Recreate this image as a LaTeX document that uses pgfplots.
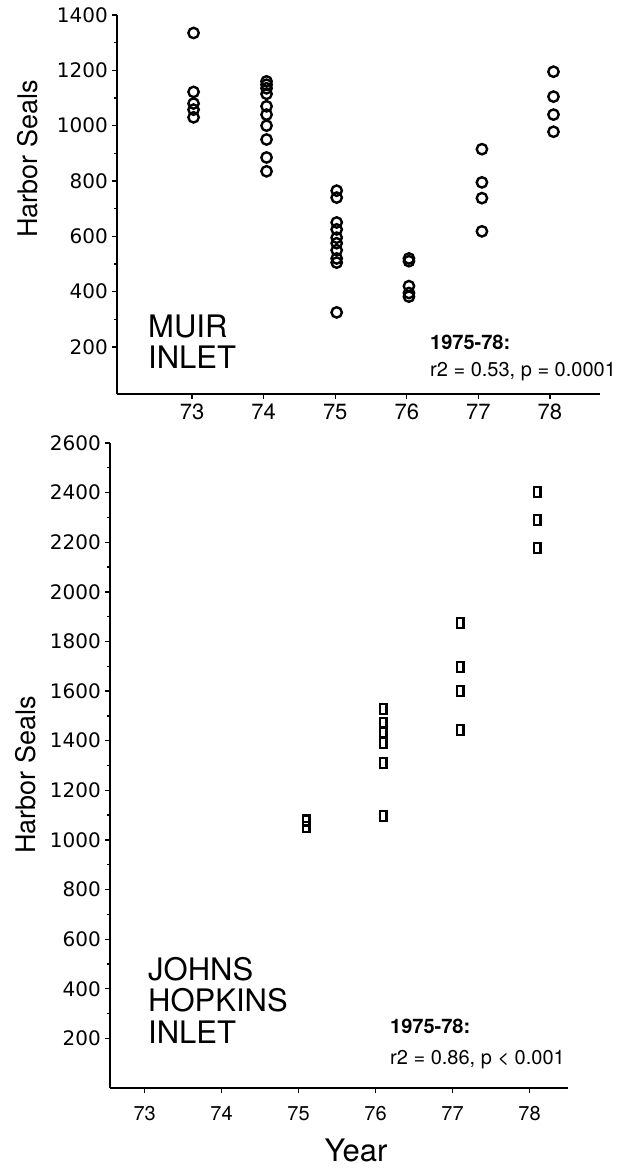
\documentclass[border=0pt]{standalone}
\usepackage{pgfplots}
\pgfplotsset{compat=1.18}
\usepackage{fontspec}
\setmainfont{TeX Gyre Heros}
\newfontfamily\tickfont{DejaVu Sans}
\begin{document}
\begin{tikzpicture}
\path[use as bounding box] (0,0) rectangle (629bp,-1171bp);
\pgfplotsset{
  myaxis/.style={
    scale only axis,
    axis lines=left,
    axis line style={-, line width=1.8bp},
    tick align=outside,
    major tick length=5bp,
    minor tick length=3bp,
    tick style={line width=1.3bp, black},
    /pgf/number format/assume math mode=true,
    /pgf/number format/1000 sep={},
    y tick label style={font=\tickfont\fontsize{20bp}{22bp}\selectfont, inner sep=2bp, xshift=-2bp},
    clip=false,
  }
}
% Muir Inlet
\begin{axis}[myaxis,
  at={(117bp,-15bp)}, anchor=north west,
  width=483bp, height=379bp,
  xmin=71.95, xmax=78.7, ymin=30, ymax=1400,
  xtick={73,74,75,76,77,78},
  ytick={200,400,600,800,1000,1200,1400},
  minor y tick num=1,
  x tick label style={font=\fontsize{22bp}{24bp}\selectfont, inner sep=1bp, yshift=-4bp},
]
\addplot[only marks, mark=o, mark size=5.2bp, line width=2.4bp, black] coordinates {
  (73.02,1335) (73.02,1122) (73.02,1080) (73.02,1058) (73.02,1030)
  (74.04,1160) (74.04,1148) (74.04,1135) (74.04,1115) (74.04,1070)
  (74.04,1040) (74.04,1000) (74.04,950) (74.04,885) (74.04,835)
  (75.02,765) (75.02,740) (75.02,650) (75.02,625) (75.02,595)
  (75.02,575) (75.02,550) (75.02,520) (75.02,505) (75.02,325)
  (76.03,520) (76.03,510) (76.03,420) (76.03,395) (76.03,382)
  (77.05,915) (77.05,795) (77.05,738) (77.05,618)
  (78.05,1195) (78.05,1105) (78.05,1040) (78.05,978)
};
\end{axis}
% Johns Hopkins Inlet
\begin{axis}[myaxis,
  at={(110bp,-443bp)}, anchor=north west,
  width=458bp, height=645bp,
  xmin=72.55, xmax=78.5, ymin=0, ymax=2600,
  xtick={73,74,75,76,77,78},
  ytick={200,400,600,800,1000,1200,1400,1600,1800,2000,2200,2400,2600},
  minor y tick num=1,
  x tick label style={font=\fontsize{20bp}{22bp}\selectfont, inner sep=1bp, yshift=-12bp},
]
\addplot[only marks, mark=square, mark size=5bp, mark options={xscale=0.65}, line width=2.2bp, black] coordinates {
  (75.1,1078) (75.1,1052)
  (76.1,1528) (76.1,1472) (76.1,1435) (76.1,1391) (76.1,1310) (76.1,1097)
  (77.1,1875) (77.1,1698) (77.1,1601) (77.1,1444)
  (78.1,2403) (78.1,2290) (78.1,2177)
};
\end{axis}
% labels
\node[rotate=90, font=\fontsize{27bp}{30bp}\selectfont, inner sep=0pt] at (28bp,-159bp) {Harbor Seals};
\node[rotate=90, font=\fontsize{27bp}{30bp}\selectfont, inner sep=0pt] at (26bp,-775bp) {Harbor Seals};
\node[anchor=base, font=\fontsize{31bp}{33bp}\selectfont, inner sep=0pt] at (356bp,-1161bp) {Year};
\begin{scope}[every node/.style={anchor=base west, inner sep=0pt}]
\node[font=\fontsize{31bp}{33bp}\selectfont] at (148bp,-337bp) {MUIR};
\node[font=\fontsize{31bp}{33bp}\selectfont] at (148bp,-368bp) {INLET};
\node[font=\fontsize{20bp}{22bp}\selectfont\bfseries] at (430bp,-349bp) {1975-78:};
\node[font=\fontsize{20bp}{22bp}\selectfont] at (430bp,-376bp) {r2 = 0.53, p = 0.0001};
\node[font=\fontsize{31bp}{33bp}\selectfont] at (148bp,-980bp) {JOHNS};
\node[font=\fontsize{31bp}{33bp}\selectfont] at (148bp,-1011.5bp) {HOPKINS};
\node[font=\fontsize{31bp}{33bp}\selectfont] at (148bp,-1043bp) {INLET};
\node[font=\fontsize{20bp}{22bp}\selectfont\bfseries] at (390bp,-1033bp) {1975-78:};
\node[font=\fontsize{20bp}{22bp}\selectfont] at (390bp,-1064bp) {r2 = 0.86, p < 0.001};
\end{scope}
\end{tikzpicture}
\end{document}
